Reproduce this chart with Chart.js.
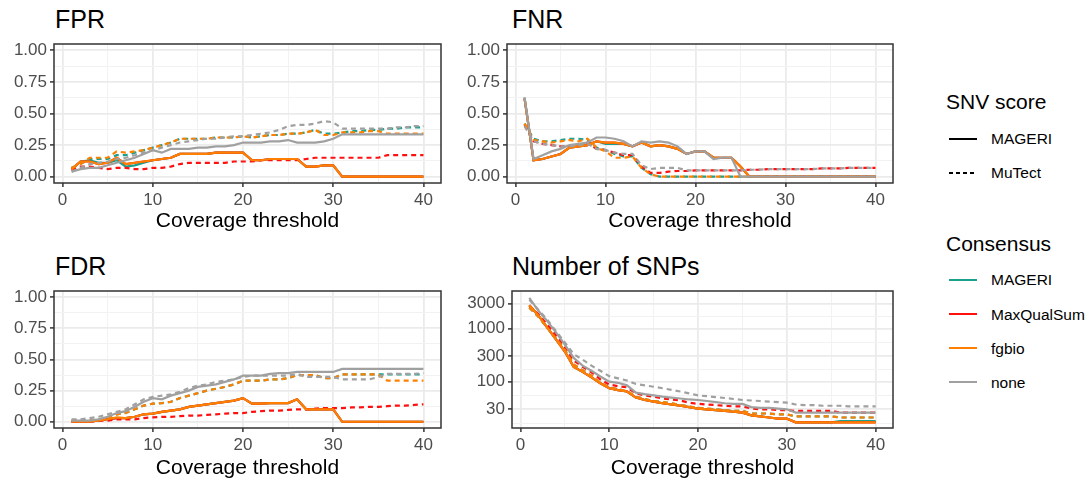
<!DOCTYPE html>
<html>
<head>
<meta charset="utf-8">
<script src="https://cdn.jsdelivr.net/npm/chart.js@4.4.1/dist/chart.umd.min.js"></script>
<style>
body { margin: 0; background: #fff; font-family: "Liberation Sans", Arial, sans-serif; }
#pagina { position: relative; width: 1089px; height: 485px; overflow: hidden; background: #fff; }
.painel { position: absolute; width: 450px; height: 234px; }
.titulo { position: absolute; font-size: 25px; line-height: 25px; color: #000; white-space: nowrap; }
.legTitulo { position: absolute; font-size: 21px; line-height: 21px; color: #000; white-space: nowrap; }
.legTexto { position: absolute; font-size: 15.5px; line-height: 15.5px; color: #000; white-space: nowrap; }
.legChave { position: absolute; left: 949px; width: 28px; height: 4px; }
</style>
</head>
<body>
<div id="pagina">
    <div class="titulo" style="left:55px;top:7px">FPR</div>
    <div class="titulo" style="left:512px;top:7px">FNR</div>
    <div class="titulo" style="left:55px;top:254px">FDR</div>
    <div class="titulo" style="left:512px;top:254px">Number of SNPs</div>

    <div class="painel" style="left:0;top:0"><canvas id="grafFPR" width="450" height="234"></canvas></div>
    <div class="painel" style="left:450px;top:0"><canvas id="grafFNR" width="450" height="234"></canvas></div>
    <div class="painel" style="left:0;top:247px"><canvas id="grafFDR" width="450" height="234"></canvas></div>
    <div class="painel" style="left:450px;top:247px"><canvas id="grafSNP" width="450" height="234"></canvas></div>

    <!-- legenda -->
    <div class="legTitulo" style="left:946px;top:91px">SNV score</div>
    <svg class="legChave" style="top:137px"><line x1="0" y1="2" x2="28" y2="2" stroke="#000" stroke-width="2"/></svg>
    <div class="legTexto" style="left:991px;top:131px">MAGERI</div>
    <svg class="legChave" style="top:171px"><line x1="0" y1="2" x2="28" y2="2" stroke="#000" stroke-width="2" stroke-dasharray="4,3"/></svg>
    <div class="legTexto" style="left:991px;top:165px">MuTect</div>

    <div class="legTitulo" style="left:946px;top:233px">Consensus</div>
    <svg class="legChave" style="top:278px"><line x1="0" y1="2" x2="28" y2="2" stroke="#1aa08c" stroke-width="2"/></svg>
    <div class="legTexto" style="left:991px;top:272px">MAGERI</div>
    <svg class="legChave" style="top:312px"><line x1="0" y1="2" x2="28" y2="2" stroke="#ff1010" stroke-width="2"/></svg>
    <div class="legTexto" style="left:991px;top:307px">MaxQualSum</div>
    <svg class="legChave" style="top:346px"><line x1="0" y1="2" x2="28" y2="2" stroke="#ff8000" stroke-width="2"/></svg>
    <div class="legTexto" style="left:991px;top:341px">fgbio</div>
    <svg class="legChave" style="top:380px"><line x1="0" y1="2" x2="28" y2="2" stroke="#a0a0a0" stroke-width="2"/></svg>
    <div class="legTexto" style="left:991px;top:375px">none</div>
</div>

<script>
// eixo x
const coverage = [1,2,3,4,5,6,7,8,9,10,11,12,13,14,15,16,17,18,19,20,21,22,23,24,25,26,27,28,29,30,31,32,33,34,35,36,37,38,39,40];
const xBreaks = [0,10,20,30,40];
const xMinor = [5,15,25,35];
const rateBreaks = [0,0.25,0.5,0.75,1];
const rateLabels = ['0.00','0.25','0.50','0.75','1.00'];
const rateMinor = [0.125,0.375,0.625,0.875];
const snpBreaks = [30,100,300,1000,3000];
const snpLabels = ['30','100','300','1000','3000'];
const snpMinor = [16.4,54.8,173,548,1732];

// FPR
const fprMageriMageri = [0.06,0.12,0.13,0.11,0.11,0.13,0.08,0.09,0.11,0.13,0.14,0.15,0.18,0.18,0.18,0.18,0.19,0.19,0.19,0.19,0.13,0.13,0.14,0.14,0.14,0.14,0.08,0.08,0.09,0.09,0,0,0,0,0,0,0,0,0,0];
const fprMageriMutect = [0.07,0.10,0.14,0.14,0.14,0.17,0.17,0.19,0.21,0.23,0.25,0.27,0.30,0.30,0.30,0.30,0.31,0.31,0.31,0.32,0.31,0.32,0.33,0.33,0.34,0.34,0.35,0.37,0.34,0.34,0.35,0.36,0.36,0.37,0.37,0.38,0.38,0.39,0.39,0.39];
const fprMaxQualMageri = [0.06,0.12,0.12,0.10,0.11,0.15,0.10,0.11,0.12,0.13,0.14,0.15,0.18,0.18,0.18,0.18,0.19,0.19,0.19,0.19,0.13,0.13,0.14,0.14,0.14,0.14,0.08,0.08,0.09,0.09,0,0,0,0,0,0,0,0,0,0];
const fprMaxQualMutect = [0.05,0.08,0.08,0.07,0.06,0.07,0.07,0.06,0.06,0.07,0.07,0.08,0.10,0.11,0.11,0.11,0.11,0.11,0.12,0.12,0.12,0.13,0.13,0.13,0.13,0.13,0.14,0.15,0.15,0.15,0.15,0.15,0.15,0.15,0.15,0.17,0.17,0.17,0.17,0.17];
const fprFgbioMageri = [0.06,0.12,0.12,0.10,0.11,0.15,0.10,0.11,0.12,0.13,0.14,0.15,0.18,0.18,0.18,0.18,0.19,0.19,0.19,0.19,0.13,0.13,0.14,0.14,0.14,0.14,0.08,0.08,0.09,0.09,0,0,0,0,0,0,0,0,0,0];
const fprFgbioMutect = [0.07,0.10,0.15,0.15,0.15,0.20,0.19,0.20,0.21,0.23,0.25,0.27,0.30,0.30,0.30,0.30,0.31,0.31,0.31,0.32,0.31,0.32,0.33,0.33,0.34,0.34,0.35,0.37,0.33,0.33,0.35,0.35,0.35,0.36,0.36,0.34,0.34,0.34,0.34,0.34];
const fprNoneMageri = [0.04,0.06,0.07,0.07,0.09,0.11,0.13,0.15,0.18,0.21,0.19,0.22,0.22,0.22,0.23,0.23,0.24,0.24,0.25,0.27,0.27,0.27,0.28,0.28,0.29,0.27,0.27,0.27,0.28,0.30,0.335,0.335,0.335,0.335,0.335,0.335,0.335,0.335,0.335,0.335];
const fprNoneMutect = [0.04,0.07,0.10,0.11,0.12,0.14,0.15,0.17,0.19,0.21,0.23,0.25,0.27,0.28,0.29,0.30,0.30,0.31,0.32,0.32,0.33,0.34,0.35,0.37,0.40,0.41,0.41,0.42,0.44,0.43,0.38,0.38,0.38,0.38,0.38,0.38,0.39,0.39,0.40,0.40];

// FNR
const fnrMageriMageri = [0.62,0.13,0.14,0.16,0.18,0.23,0.24,0.25,0.28,0.26,0.26,0.26,0.24,0.27,0.24,0.25,0.24,0.22,0.18,0.20,0.20,0.15,0.15,0.15,0.08,0,0,0,0,0,0,0,0,0,0,0,0,0,0,0];
const fnrMageriMutect = [0.42,0.30,0.28,0.28,0.29,0.30,0.30,0.29,0.23,0.21,0.18,0.16,0.16,0.07,0.02,0,0,0,0,0,0,0,0,0,0,0,0,0,0,0,0,0,0,0,0,0,0,0,0,0];
const fnrMaxQualMageri = [0.62,0.13,0.14,0.16,0.18,0.23,0.24,0.25,0.28,0.27,0.27,0.26,0.24,0.27,0.24,0.25,0.24,0.22,0.18,0.20,0.20,0.15,0.15,0.15,0.08,0,0,0,0,0,0,0,0,0,0,0,0,0,0,0];
const fnrMaxQualMutect = [0.41,0.28,0.26,0.25,0.24,0.24,0.25,0.27,0.22,0.21,0.19,0.17,0.17,0.08,0.03,0.03,0.04,0.045,0.045,0.05,0.05,0.05,0.05,0.05,0.05,0.055,0.055,0.06,0.06,0.06,0.06,0.06,0.06,0.065,0.065,0.065,0.07,0.07,0.07,0.07];
const fnrFgbioMageri = [0.62,0.13,0.14,0.16,0.18,0.23,0.24,0.25,0.28,0.27,0.27,0.26,0.24,0.27,0.24,0.25,0.24,0.22,0.18,0.20,0.20,0.15,0.15,0.15,0.08,0,0,0,0,0,0,0,0,0,0,0,0,0,0,0];
const fnrFgbioMutect = [0.42,0.29,0.28,0.27,0.28,0.29,0.28,0.30,0.23,0.20,0.15,0.15,0.16,0.07,0.02,0,0,0,0,0,0,0,0,0,0,0,0,0,0,0,0,0,0,0,0,0,0,0,0,0];
const fnrNoneMageri = [0.63,0.14,0.17,0.20,0.22,0.25,0.26,0.27,0.31,0.31,0.30,0.28,0.24,0.28,0.27,0.28,0.27,0.24,0.18,0.20,0.20,0.14,0.15,0.15,0,0,0,0,0,0,0,0,0,0,0,0,0,0,0,0];
const fnrNoneMutect = [0.40,0.28,0.26,0.25,0.24,0.24,0.25,0.26,0.22,0.21,0.19,0.18,0.18,0.09,0.06,0.07,0.07,0.07,0.05,0.05,0.05,0.05,0.05,0.05,0.05,0.055,0.055,0.06,0.06,0.06,0.06,0.06,0.06,0.065,0.065,0.065,0.07,0.07,0.07,0.07];

// FDR
const fdrMageriMageri = [0,0,0,0.01,0.02,0.03,0.03,0.04,0.06,0.065,0.08,0.09,0.10,0.12,0.13,0.14,0.15,0.16,0.17,0.19,0.145,0.145,0.15,0.15,0.15,0.18,0.10,0.10,0.10,0.10,0,0,0,0,0,0,0,0,0,0];
const fdrMageriMutect = [0.01,0.01,0.01,0.02,0.03,0.06,0.07,0.10,0.13,0.145,0.15,0.16,0.19,0.21,0.23,0.25,0.265,0.28,0.30,0.33,0.33,0.33,0.34,0.34,0.35,0.375,0.375,0.375,0.35,0.35,0.38,0.38,0.38,0.38,0.38,0.38,0.38,0.38,0.38,0.38];
const fdrMaxQualMageri = [0,0,0,0.01,0.02,0.03,0.03,0.04,0.06,0.065,0.08,0.09,0.10,0.12,0.13,0.14,0.15,0.16,0.17,0.19,0.145,0.145,0.15,0.15,0.15,0.18,0.10,0.10,0.10,0.10,0,0,0,0,0,0,0,0,0,0];
const fdrMaxQualMutect = [0,0,0,0.01,0.01,0.02,0.02,0.02,0.03,0.035,0.04,0.04,0.045,0.05,0.05,0.055,0.06,0.065,0.07,0.07,0.08,0.085,0.09,0.09,0.095,0.10,0.10,0.105,0.11,0.11,0.11,0.115,0.115,0.12,0.12,0.125,0.13,0.13,0.135,0.14];
const fdrFgbioMageri = [0,0,0,0.01,0.02,0.035,0.03,0.04,0.06,0.065,0.08,0.09,0.10,0.12,0.13,0.14,0.15,0.16,0.17,0.19,0.145,0.145,0.15,0.15,0.15,0.18,0.10,0.10,0.10,0.10,0,0,0,0,0,0,0,0,0,0];
const fdrFgbioMutect = [0.01,0.01,0.01,0.02,0.03,0.06,0.07,0.10,0.13,0.145,0.15,0.16,0.19,0.21,0.23,0.25,0.265,0.28,0.30,0.33,0.33,0.33,0.34,0.34,0.35,0.375,0.375,0.375,0.35,0.35,0.38,0.38,0.38,0.38,0.38,0.33,0.33,0.33,0.33,0.33];
const fdrNoneMageri = [0.01,0.01,0.01,0.02,0.04,0.07,0.085,0.12,0.16,0.19,0.18,0.21,0.23,0.25,0.28,0.29,0.30,0.32,0.34,0.37,0.37,0.37,0.385,0.39,0.39,0.40,0.40,0.40,0.40,0.40,0.425,0.425,0.425,0.425,0.425,0.425,0.425,0.425,0.425,0.425];
const fdrNoneMutect = [0.02,0.02,0.03,0.04,0.06,0.08,0.10,0.14,0.18,0.20,0.21,0.22,0.24,0.27,0.29,0.30,0.32,0.33,0.34,0.36,0.37,0.37,0.37,0.37,0.37,0.385,0.36,0.36,0.36,0.36,0.34,0.34,0.34,0.34,0.36,0.385,0.385,0.385,0.385,0.39];

// Number of SNPs
const snpMageriMageri = [2780,1800,1060,630,370,190,153,120,93,75,69,65,50,45,42,39,37,35,33,31,30,29,28,27,26,23,22,21,20,20,17,17,17,17,17,18,18,18,18,18];
const snpMageriMutect = [2500,1700,1050,650,400,210,165,130,95,78,72,66,52,47,43,41,39,36,34,32,31,30,29,28,28,25,25,25,24,24,22,22,22,22,22,21,21,21,21,21];
const snpMaxQualMageri = [2780,1800,1060,630,370,190,153,120,93,75,69,65,50,45,42,39,37,35,33,31,30,29,28,27,26,23,22,21,20,20,17,17,17,17,17,17,17,17,17,17];
const snpMaxQualMutect = [2700,1900,1200,750,450,250,190,150,110,88,82,78,60,55,52,48,46,44,40,38,37,36,35,34,34,31,30,30,29,29,28,28,28,28,28,26,26,26,26,26];
const snpFgbioMageri = [2780,1800,1060,630,370,190,153,120,93,75,69,65,50,45,42,39,37,35,33,31,30,29,28,27,26,23,22,21,20,20,17,17,17,17,17,17,17,17,17,17];
const snpFgbioMutect = [2500,1700,1050,650,400,210,165,130,95,78,72,66,52,47,43,41,39,36,34,32,31,30,29,28,28,25,25,25,24,24,22,22,22,22,22,21,21,21,21,21];
const snpNoneMageri = [3800,2200,1400,850,500,280,200,160,125,100,95,85,62,58,55,52,50,48,46,45,43,41,39,38,38,33,32,32,31,30,26,26,26,26,26,26,26,26,26,26];
const snpNoneMutect = [3500,2300,1500,900,550,330,260,200,160,127,115,105,90,85,80,75,70,65,60,55,53,51,49,47,45,44,43,42,41,40,37,36,36,35,35,35,34,34,34,34];

const cores = { MAGERI: '#1aa08c', MaxQualSum: '#ff1010', fgbio: '#ff8000', none: '#a0a0a0' };
// ordem de desenho: none por cima de tudo
const ordem = { MAGERI: 3, MaxQualSum: 2, fgbio: 1, none: 0 };

Chart.defaults.font.family = "'Liberation Sans', Arial, sans-serif";

// moldura do painel (theme_bw)
const moldura = {
    id: 'moldura',
    afterDraw(chart) {
        let a = chart.chartArea;
        let ctx = chart.ctx;
        ctx.save();
        ctx.strokeStyle = '#333333';
        ctx.lineWidth = 1.5;
        ctx.strokeRect(a.left, a.top, a.right - a.left, a.bottom - a.top);
        ctx.restore();
    }
};

function serie(valores, consenso, score) {
    return {
        label: consenso + ' / ' + score,
        data: coverage.map((c, i) => ({ x: c, y: valores[i] })),
        borderColor: cores[consenso],
        borderWidth: 2.2,
        borderDash: score === 'MuTect' ? [5, 4] : [],
        pointRadius: 0,
        tension: 0,
        fill: false,
        order: ordem[consenso]
    };
}

function eixoTicks(major, minor) {
    return function(axis) {
        axis.ticks = major.concat(minor).sort((a, b) => a - b).map(v => ({ value: v }));
    };
}

function desenhaPainel(id, datasets, yCfg, yWidth, xHeight, padRight) {
    let yMajor = yCfg.breaks;
    new Chart(document.getElementById(id), {
        type: 'line',
        data: { datasets: datasets },
        plugins: [moldura],
        options: {
            responsive: false,
            animation: false,
            events: [],
            layout: { padding: { top: 44, right: padRight, left: 0, bottom: 0 } },
            plugins: { legend: { display: false }, tooltip: { enabled: false } },
            scales: {
                x: {
                    type: 'linear',
                    min: -0.95,
                    max: 41.95,
                    afterBuildTicks: eixoTicks(xBreaks, xMinor),
                    afterFit: s => { s.height = xHeight; },
                    border: { display: false },
                    grid: {
                        color: c => xBreaks.includes(c.tick.value) ? '#ebebeb' : '#f2f2f2',
                        lineWidth: c => xBreaks.includes(c.tick.value) ? 1.8 : 1,
                        tickColor: c => xBreaks.includes(c.tick.value) ? '#333333' : 'rgba(0,0,0,0)',
                        tickLength: 4,
                        tickWidth: 1.5
                    },
                    ticks: {
                        autoSkip: false,
                        maxRotation: 0,
                        padding: 3,
                        color: '#4d4d4d',
                        font: { size: 17 },
                        callback: v => xBreaks.includes(v) ? String(v) : ''
                    },
                    title: {
                        display: true,
                        text: 'Coverage threshold',
                        color: '#000',
                        font: { size: 21 },
                        padding: 0
                    }
                },
                y: {
                    type: yCfg.type,
                    min: yCfg.min,
                    max: yCfg.max,
                    afterBuildTicks: eixoTicks(yMajor, yCfg.minor),
                    afterFit: s => { s.width = yWidth; },
                    border: { display: false },
                    grid: {
                        color: c => yMajor.includes(c.tick.value) ? '#ebebeb' : '#f2f2f2',
                        lineWidth: c => yMajor.includes(c.tick.value) ? 1.8 : 1,
                        tickColor: c => yMajor.includes(c.tick.value) ? '#333333' : 'rgba(0,0,0,0)',
                        tickLength: 4,
                        tickWidth: 1.5
                    },
                    ticks: {
                        autoSkip: false,
                        padding: 3,
                        color: '#4d4d4d',
                        font: { size: 17 },
                        callback: v => {
                            let k = yMajor.indexOf(v);
                            return k >= 0 ? yCfg.labels[k] : '';
                        }
                    }
                }
            }
        }
    });
}

const escalaTaxa = { type: 'linear', min: -0.05, max: 1.05, breaks: rateBreaks, minor: rateMinor, labels: rateLabels };
const escalaSnp = { type: 'logarithmic', min: 13.3, max: 5150, breaks: snpBreaks, minor: snpMinor, labels: snpLabels };

desenhaPainel('grafFPR', [
    serie(fprNoneMageri, 'none', 'MAGERI'), serie(fprNoneMutect, 'none', 'MuTect'),
    serie(fprFgbioMageri, 'fgbio', 'MAGERI'), serie(fprFgbioMutect, 'fgbio', 'MuTect'),
    serie(fprMaxQualMageri, 'MaxQualSum', 'MAGERI'), serie(fprMaxQualMutect, 'MaxQualSum', 'MuTect'),
    serie(fprMageriMageri, 'MAGERI', 'MAGERI'), serie(fprMageriMutect, 'MAGERI', 'MuTect')
], escalaTaxa, 54, 51, 9);

desenhaPainel('grafFNR', [
    serie(fnrNoneMageri, 'none', 'MAGERI'), serie(fnrNoneMutect, 'none', 'MuTect'),
    serie(fnrFgbioMageri, 'fgbio', 'MAGERI'), serie(fnrFgbioMutect, 'fgbio', 'MuTect'),
    serie(fnrMaxQualMageri, 'MaxQualSum', 'MAGERI'), serie(fnrMaxQualMutect, 'MaxQualSum', 'MuTect'),
    serie(fnrMageriMageri, 'MAGERI', 'MAGERI'), serie(fnrMageriMutect, 'MAGERI', 'MuTect')
], escalaTaxa, 57, 51, 7);

desenhaPainel('grafFDR', [
    serie(fdrNoneMageri, 'none', 'MAGERI'), serie(fdrNoneMutect, 'none', 'MuTect'),
    serie(fdrFgbioMageri, 'fgbio', 'MAGERI'), serie(fdrFgbioMutect, 'fgbio', 'MuTect'),
    serie(fdrMaxQualMageri, 'MaxQualSum', 'MAGERI'), serie(fdrMaxQualMutect, 'MaxQualSum', 'MuTect'),
    serie(fdrMageriMageri, 'MAGERI', 'MAGERI'), serie(fdrMageriMutect, 'MAGERI', 'MuTect')
], escalaTaxa, 54, 53, 9);

desenhaPainel('grafSNP', [
    serie(snpNoneMageri, 'none', 'MAGERI'), serie(snpNoneMutect, 'none', 'MuTect'),
    serie(snpFgbioMageri, 'fgbio', 'MAGERI'), serie(snpFgbioMutect, 'fgbio', 'MuTect'),
    serie(snpMaxQualMageri, 'MaxQualSum', 'MAGERI'), serie(snpMaxQualMutect, 'MaxQualSum', 'MuTect'),
    serie(snpMageriMageri, 'MAGERI', 'MAGERI'), serie(snpMageriMutect, 'MAGERI', 'MuTect')
], escalaSnp, 62, 53, 7);
</script>
</body>
</html>
